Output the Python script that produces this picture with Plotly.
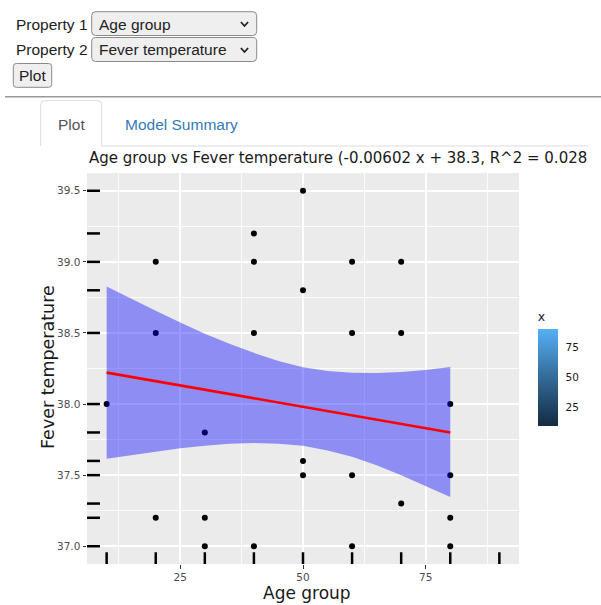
import plotly.graph_objects as go

# ---------------- data ----------------
age_x = [10, 20, 20, 20, 30, 30, 30, 40, 40, 40, 40, 50, 50, 50, 50,
         60, 60, 60, 60, 70, 70, 70, 80, 80, 80, 80]
fever_y = [38.0, 39.0, 38.5, 37.2, 37.8, 37.2, 37.0, 39.2, 39.0, 38.5, 37.0,
           39.5, 38.8, 37.6, 37.5, 39.0, 38.5, 37.5, 37.0, 39.0, 38.5, 37.3,
           38.0, 37.5, 37.2, 37.0]
rug_x = [10, 20, 30, 40, 50, 60, 70, 80, 90]
rug_y = [37.0, 37.2, 37.3, 37.5, 37.6, 37.8, 38.0, 38.5, 38.8, 39.0, 39.2, 39.5]
fit_x = [10, 80]
fit_y = [38.221, 37.800]
band_x = [10, 15, 20, 25, 30, 35, 40, 45, 50, 55, 60, 65, 70, 75, 80]
band_upper = [38.826, 38.740, 38.657, 38.574, 38.495, 38.424, 38.360, 38.302,
              38.259, 38.232, 38.220, 38.218, 38.226, 38.240, 38.260]
band_lower = [37.616, 37.642, 37.668, 37.689, 37.707, 37.720, 37.726, 37.721,
              37.706, 37.673, 37.630, 37.570, 37.500, 37.425, 37.347]
x_ticks = [25, 50, 75]
y_ticks = [37.0, 37.5, 38.0, 38.5, 39.0, 39.5]
cbar_ticks = [25, 50, 75]
cbar_limits = [10, 90]
title_text = "Age group vs Fever temperature (-0.00602 x + 38.3, R^2 = 0.028"

# ---------------- geometry helpers ----------------
W, H = 601, 605
def px(x):
    return x / W
def py(y):
    return 1 - y / H

X_RANGE = [6, 94]
Y_RANGE = [36.875, 39.625]
RUG_FRAC = 0.03

PLOT_FONT = "DejaVu Sans"
UI_FONT = "Liberation Sans"

fig = go.Figure()

# points
fig.add_trace(go.Scatter(x=age_x, y=fever_y, mode="markers",
                         marker=dict(color="black", size=6),
                         showlegend=False, hoverinfo="x+y"))

# confidence band
fig.add_trace(go.Scatter(x=band_x, y=band_lower, mode="lines",
                         line=dict(width=0, color="rgba(0,0,255,0)"),
                         showlegend=False, hoverinfo="skip"))
fig.add_trace(go.Scatter(x=band_x, y=band_upper, mode="lines", fill="tonexty",
                         fillcolor="rgba(0,0,255,0.4)",
                         line=dict(width=0, color="rgba(0,0,255,0)"),
                         showlegend=False, hoverinfo="skip"))

# fit line
fig.add_trace(go.Scatter(x=fit_x, y=fit_y, mode="lines",
                         line=dict(color="red", width=2.6),
                         showlegend=False, hoverinfo="skip"))

# rugs
xr_len = RUG_FRAC * (Y_RANGE[1] - Y_RANGE[0])
rx, ry = [], []
for v in rug_x:
    rx += [v, v, None]
    ry += [Y_RANGE[0], Y_RANGE[0] + xr_len, None]
fig.add_trace(go.Scatter(x=rx, y=ry, mode="lines", line=dict(color="black", width=2.5),
                         showlegend=False, hoverinfo="skip"))
yr_len = RUG_FRAC * (X_RANGE[1] - X_RANGE[0])
rx, ry = [], []
for v in rug_y:
    rx += [X_RANGE[0], X_RANGE[0] + yr_len, None]
    ry += [v, v, None]
fig.add_trace(go.Scatter(x=rx, y=ry, mode="lines", line=dict(color="black", width=2.5),
                         showlegend=False, hoverinfo="skip"))

# colorbar (dummy trace)
cb_left, cb_thick = 537.7, 20
cb_top, cb_bot = 328, 426
cb_title_h = 19
fig.add_trace(go.Scatter(
    x=[None], y=[None], mode="markers", showlegend=False, hoverinfo="skip",
    marker=dict(color=[50], cmin=cbar_limits[0], cmax=cbar_limits[1], showscale=True,
                colorscale=[[0, "#132B43"], [0.5, "#336A98"], [1, "#56B1F7"]],
                colorbar=dict(
                    x=px(cb_left), xanchor="left", xpad=0, ypad=0,
                    y=py(cb_bot), yanchor="bottom",
                    len=(cb_bot - cb_top + cb_title_h) / H, lenmode="fraction",
                    thickness=cb_thick, thicknessmode="pixels",
                    outlinewidth=0,
                    tickvals=cbar_ticks, ticks="outside", ticklen=6,
                    tickcolor="white", tickwidth=1,
                    tickfont=dict(family=PLOT_FONT, size=10.5, color="#1A1A1A"),
                    title=dict(text="x", side="top",
                               font=dict(family=PLOT_FONT, size=12.5, color="#1A1A1A")),
                ))))

# ---------------- layout ----------------
axis_common = dict(showline=False, zeroline=False, ticks="outside", ticklen=3.5,
                   tickwidth=0.7, tickcolor="#333333",
                   gridcolor="white", gridwidth=1.6,
                   tickfont=dict(family=PLOT_FONT, size=10.5, color="#4D4D4D"))
fig.update_layout(
    width=W, height=H,
    margin=dict(l=0, r=0, t=0, b=0),
    paper_bgcolor="white", plot_bgcolor="#EBEBEB",
    showlegend=False,
    xaxis=dict(domain=[px(87), px(519)], range=X_RANGE, tickvals=x_ticks,
               minor=dict(tickvals=[12.5, 37.5, 62.5, 87.5], showgrid=True,
                          gridcolor="rgba(255,255,255,0.8)", gridwidth=0.8, ticks=""),
               **axis_common),
    yaxis=dict(domain=[py(564), py(173)], range=Y_RANGE, tickvals=y_ticks,
               tickformat=".1f",
               minor=dict(tickvals=[37.25, 37.75, 38.25, 38.75, 39.25], showgrid=True,
                          gridcolor="rgba(255,255,255,0.8)", gridwidth=0.8, ticks=""),
               **axis_common),
)

# ---------------- page chrome (controls, tabs) ----------------
shapes = []
annotations = []

def rrect_path(x0, y0, x1, y1, r):
    pts = [
        ("M", [(x0 + r, y0)]),
        ("L", [(x1 - r, y0)]),
        ("Q", [(x1, y0), (x1, y0 + r)]),
        ("L", [(x1, y1 - r)]),
        ("Q", [(x1, y1), (x1 - r, y1)]),
        ("L", [(x0 + r, y1)]),
        ("Q", [(x0, y1), (x0, y1 - r)]),
        ("L", [(x0, y0 + r)]),
        ("Q", [(x0, y0), (x0 + r, y0)]),
    ]
    s = ""
    for cmd, ps in pts:
        s += cmd + " " + " ".join(f"{px(a):.5f},{py(b):.5f}" for a, b in ps) + " "
    return s + "Z"

def add_text(x, y, text, size=15.5, color="#222222", family=UI_FONT, xanchor="left", **kw):
    annotations.append(dict(x=px(x), y=py(y), xref="paper", yref="paper", text=text,
                            showarrow=False, xanchor=xanchor, yanchor="middle",
                            font=dict(family=family, size=size, color=color), **kw))

def add_chevron(cx, cy):
    path = (f"M {px(cx-3.6):.5f},{py(cy-2):.5f} L {px(cx):.5f},{py(cy+2):.5f} "
            f"L {px(cx+3.6):.5f},{py(cy-2):.5f}")
    shapes.append(dict(type="path", path=path, xref="paper", yref="paper",
                       line=dict(color="#222222", width=1.8)))

# white tick marks inside the colorbar (ggplot style)
for v in cbar_ticks:
    yy = cb_bot - (v - cbar_limits[0]) / (cbar_limits[1] - cbar_limits[0]) * (cb_bot - cb_top)
    for xa, xb in [(cb_left, cb_left + 4), (cb_left + cb_thick - 4, cb_left + cb_thick)]:
        shapes.append(dict(type="line", x0=px(xa), x1=px(xb), y0=py(yy), y1=py(yy),
                           xref="paper", yref="paper",
                           line=dict(color="rgba(255,255,255,0.6)", width=1)))

# property rows
add_text(14, 24, "Property 1")
shapes.append(dict(type="path", path=rrect_path(91.7, 11.7, 256.7, 35.5, 4),
                   xref="paper", yref="paper", fillcolor="#EFEFEF",
                   line=dict(color="#8A8A8A", width=1)))
add_text(97, 24, "Age group")
add_chevron(244.5, 24)

add_text(14, 50, "Property 2")
shapes.append(dict(type="path", path=rrect_path(91.7, 37.5, 256.7, 61.5, 4),
                   xref="paper", yref="paper", fillcolor="#EFEFEF",
                   line=dict(color="#8A8A8A", width=1)))
add_text(97, 50, "Fever temperature")
add_chevron(244.5, 50)

shapes.append(dict(type="path", path=rrect_path(13.3, 63.5, 51.7, 87.3, 3),
                   xref="paper", yref="paper", fillcolor="#EFEFEF",
                   line=dict(color="#8A8A8A", width=1)))
add_text(32.5, 76, "Plot", xanchor="center")

# horizontal rule
shapes.append(dict(type="line", x0=px(5), x1=px(601), y0=py(96.7), y1=py(96.7),
                   xref="paper", yref="paper", line=dict(color="#999999", width=1.4)))

# tabs
tab_path = (f"M {px(40.7):.5f},{py(146):.5f} L {px(40.7):.5f},{py(104.5):.5f} "
            f"Q {px(40.7):.5f},{py(100.7):.5f} {px(44.5):.5f},{py(100.7):.5f} "
            f"L {px(97.9):.5f},{py(100.7):.5f} "
            f"Q {px(101.7):.5f},{py(100.7):.5f} {px(101.7):.5f},{py(104.5):.5f} "
            f"L {px(101.7):.5f},{py(146):.5f} L {px(588):.5f},{py(146):.5f}")
shapes.append(dict(type="path", path=tab_path, xref="paper", yref="paper",
                   line=dict(color="#DDDDDD", width=1)))
add_text(71, 124, "Plot", color="#555555", xanchor="center")
add_text(123, 124, "Model Summary", color="#337AB7")

# plot title and axis titles
add_text(87, 158, title_text, size=15, color="#1A1A1A", family=PLOT_FONT)
add_text(307, 593, "Age group", size=17, color="#1A1A1A", family=PLOT_FONT, xanchor="center")
annotations.append(dict(x=px(48), y=py(367), xref="paper", yref="paper",
                        text="Fever temperature", showarrow=False, textangle=-90,
                        xanchor="center", yanchor="middle",
                        font=dict(family=PLOT_FONT, size=17.5, color="#1A1A1A")))

fig.update_layout(shapes=shapes, annotations=annotations)

fig.write_html("out.html", config={"displayModeBar": False})
